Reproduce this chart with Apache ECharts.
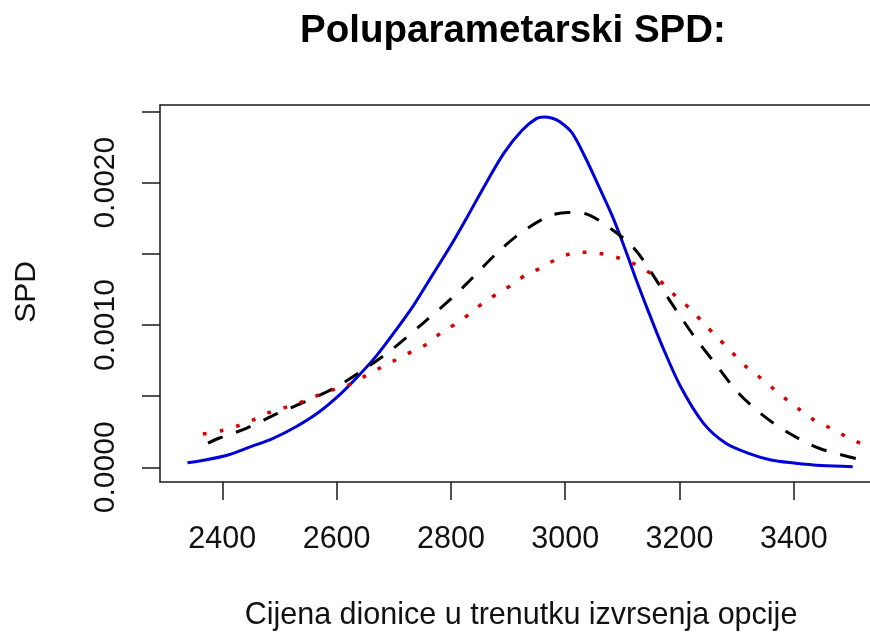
<!DOCTYPE html>
<html><head><meta charset="utf-8">
<script src="https://cdn.jsdelivr.net/npm/echarts@6/dist/echarts.min.js"></script>
<style>html,body{margin:0;padding:0;background:#fff}#c{width:870px;height:636px}</style>
</head><body><div id="c"></div>
<script>
const titleText = 'Poluparametarski SPD:';
const xTitle = 'Cijena dionice u trenutku izvrsenja opcije';
const yTitle = 'SPD';
const xTicks = [2400, 2600, 2800, 3000, 3200, 3400];
const yTicks = [0, 0.0005, 0.001, 0.0015, 0.002, 0.0025];
const yLabelValues = [0, 0.001, 0.002];

const blueX = [2339,2370,2410,2450,2489,2529,2568,2608,2640,2671,2703,2735,2766,2800,2830,2862,2893,2925,2950,2963,2976,2990,3012,3036,3059,3083,3107,3124,3147,3170,3202,3242,3281,3321,3360,3400,3448,3503];
const blueY = [0.000032,0.000051,0.000086,0.000145,0.000204,0.000285,0.000385,0.000520,0.000650,0.000790,0.000960,0.001140,0.001340,0.001560,0.001770,0.002000,0.002210,0.002370,0.002452,0.002462,0.002455,0.002430,0.002350,0.002170,0.001972,0.001760,0.001510,0.001320,0.001080,0.000850,0.000566,0.000309,0.000169,0.000098,0.000051,0.000030,0.000012,0.000004];

const blackX = [2375,2394,2442,2497,2545,2600,2655,2703,2751,2798,2830,2877,2921,2972,3005,3032,3083,3123,3163,3194,3226,3262,3301,3345,3392,3444,3515];
const blackY = [0.000170,0.000204,0.000274,0.000379,0.000461,0.000566,0.000707,0.000848,0.001012,0.001176,0.001300,0.001492,0.001644,0.001766,0.001790,0.001785,0.001668,0.001527,0.001293,0.001105,0.000918,0.000731,0.000531,0.000368,0.000239,0.000134,0.000055];

const redX = [2366,2398,2426,2453,2481,2509,2537,2564,2592,2620,2648,2675,2703,2731,2758,2784,2810,2834,2857,2884,2909,2933,2956,2982,3008,3036,3066,3095,3121,3151,3172,3194,3220,3242,3266,3291,3315,3341,3365,3388,3412,3436,3463,3491,3519];
const redY = [0.000234,0.000257,0.000290,0.000332,0.000384,0.000419,0.000457,0.000501,0.000543,0.000578,0.000637,0.000696,0.000754,0.000812,0.000866,0.000949,0.001012,0.001082,0.001157,0.001227,0.001288,0.001358,0.001398,0.001457,0.001499,0.001511,0.001499,0.001469,0.001429,0.001358,0.001288,0.001199,0.001110,0.001012,0.000914,0.000812,0.000712,0.000630,0.000550,0.000473,0.000400,0.000330,0.000278,0.000218,0.000164];

const zip = (xs, ys) => xs.map((x, i) => [x, ys[i]]);
const FONT = '"Liberation Sans", Arial, sans-serif';
const FRAME = {show: true, onZero: false, lineStyle: {color: '#1a1a1a', width: 1.5}};
const X_MIN = 2291, X_MAX = 3533.25;

const chart = echarts.init(document.getElementById('c'), null, {renderer: 'canvas'});
chart.setOption({
  animation: false,
  backgroundColor: '#fff',
  grid: {left: 160, top: 105, right: 0, bottom: 154, show: false},
  xAxis: [{
    type: 'value', min: X_MIN, max: X_MAX, position: 'bottom',
    splitLine: {show: false}, axisLine: FRAME,
    axisTick: {show: true, inside: false, length: 18, customValues: xTicks, lineStyle: {color: '#1a1a1a', width: 1.5}},
    axisLabel: {show: true, customValues: xTicks, margin: 42, fontSize: 30.5, fontFamily: FONT, color: '#111',
      formatter: v => String(v)}
  }, {
    type: 'value', min: X_MIN, max: X_MAX, position: 'top',
    splitLine: {show: false}, axisLine: FRAME, axisTick: {show: false}, axisLabel: {show: false}
  }],
  yAxis: {
    type: 'value', min: -0.0001033, max: 0.002546, position: 'left',
    splitLine: {show: false}, axisLine: FRAME,
    axisTick: {show: true, inside: false, length: 18, customValues: yTicks, lineStyle: {color: '#1a1a1a', width: 1.5}},
    axisLabel: {show: true, customValues: yLabelValues, rotate: 90, margin: 39, fontSize: 30, fontFamily: FONT, color: '#111',
      formatter: v => Number(v).toFixed(4)}
  },
  graphic: [
    {type: 'text', x: 513, y: 31, style: {text: titleText, font: 'bold 38.5px ' + FONT, fill: '#000', textAlign: 'center', textVerticalAlign: 'middle'}},
    {type: 'text', x: 521, y: 616, style: {text: xTitle, font: '30.5px ' + FONT, fill: '#111', textAlign: 'center', textVerticalAlign: 'middle'}},
    {type: 'text', x: 27, y: 292, rotation: Math.PI / 2, style: {text: yTitle, font: '30px ' + FONT, fill: '#111', textAlign: 'center', textVerticalAlign: 'middle'}}
  ],
  series: [
    {type: 'line', xAxisIndex: 0, data: zip(blueX, blueY), showSymbol: false, smooth: 0.3, lineStyle: {color: '#0000d8', width: 3}},
    {type: 'line', xAxisIndex: 0, data: zip(blackX, blackY), showSymbol: false, smooth: 0.3, lineStyle: {color: '#000', width: 3, type: [16, 14]}},
    {type: 'line', xAxisIndex: 0, data: zip(redX, redY), showSymbol: false, smooth: 0.3, lineStyle: {color: '#d80000', width: 3.5, type: [4, 13]}}
  ]
});
</script>
</body></html>
